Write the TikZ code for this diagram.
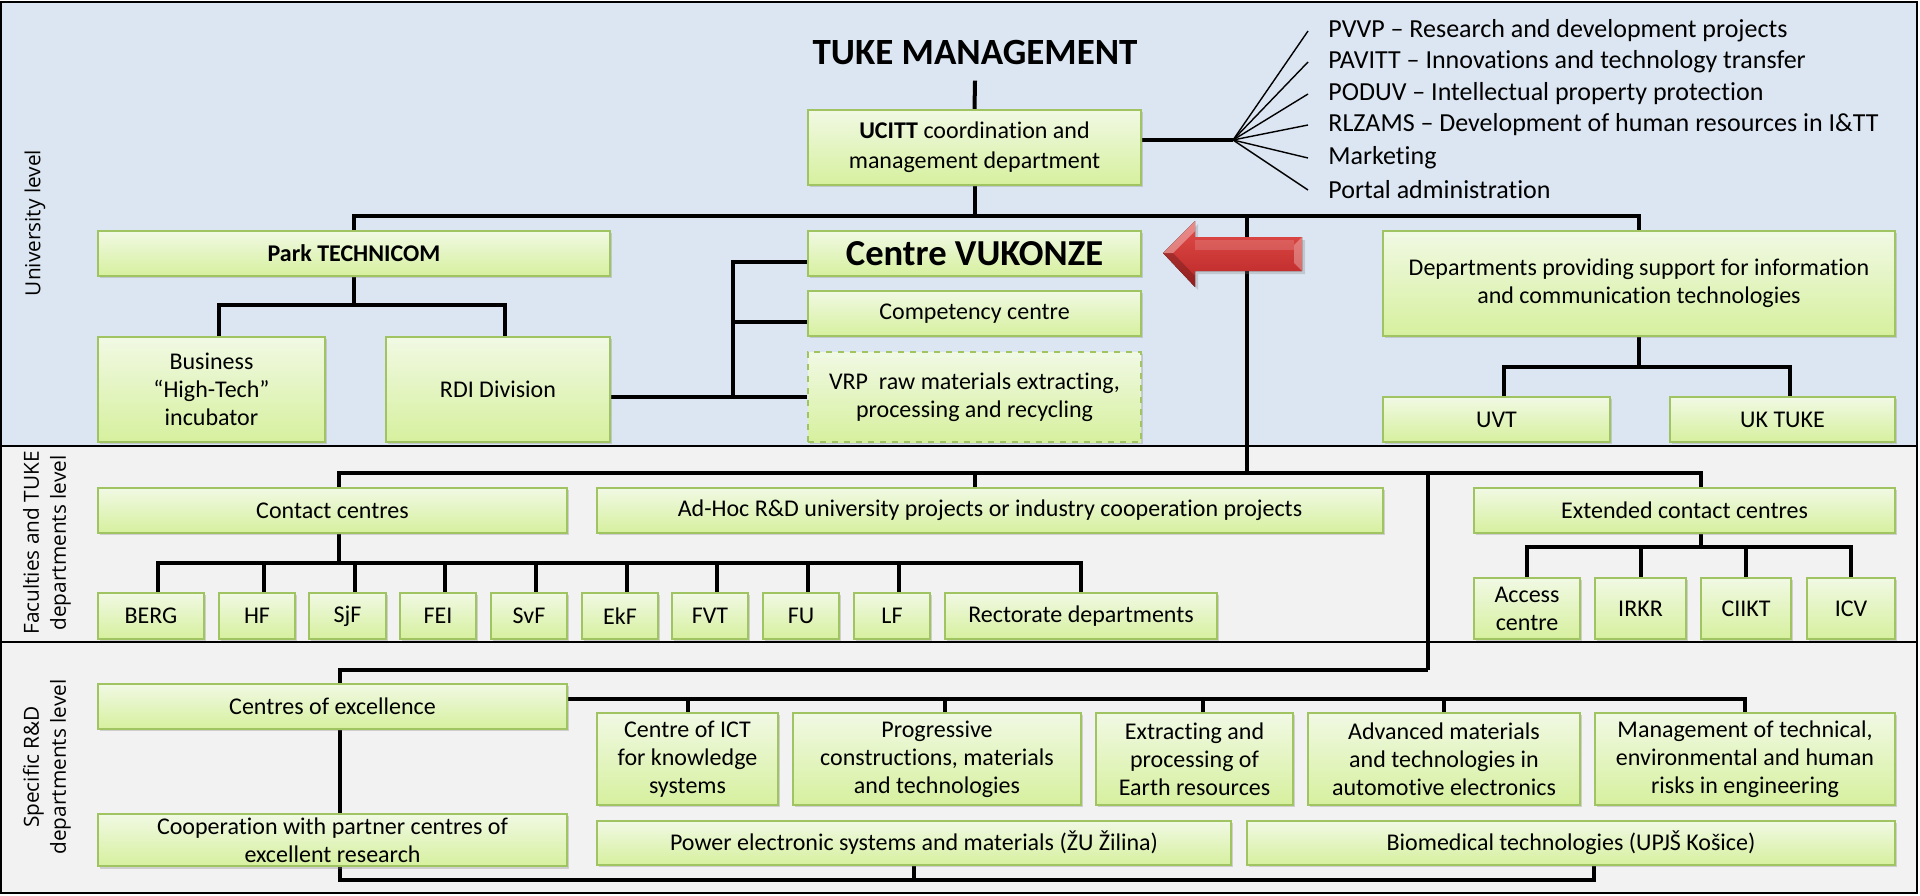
\documentclass[tikz,border=0pt]{standalone}
\usepackage{fontspec}
\setmainfont{Carlito}[Ligatures=NoCommon]
\newfontfamily\lblfont{Open Sans}
\usetikzlibrary{shadows}
\pgfdeclarelayer{bg}
\pgfdeclarelayer{lines}
\pgfsetlayers{bg,lines,main}
\definecolor{lvA}{RGB}{220,230,242}
\definecolor{lvB}{RGB}{242,242,242}
\definecolor{boxtop}{RGB}{241,249,228}
\definecolor{boxbot}{RGB}{214,240,158}
\definecolor{boxline}{RGB}{160,196,98}
\definecolor{arrtop}{RGB}{226,78,74}
\definecolor{arrbot}{RGB}{185,38,38}
\tikzset{
 box/.style={draw=boxline, line width=1pt, top color=boxtop, bottom color=boxbot, inner sep=2pt, align=center,
   font=\fontsize{12}{14}\selectfont, drop shadow={shadow xshift=1.2pt, shadow yshift=-1.2pt, opacity=0.3}},
 conn/.style={line width=2pt, black},
 fanline/.style={line width=0.7pt, black},
 item/.style={anchor=west, inner sep=0pt, font=\fontsize{13}{15}\selectfont},
 lbl/.style={font=\lblfont\fontsize{10.4}{13.5}\selectfont, align=center, inner sep=0pt, rotate=90},
 sepline/.style={line width=1.3pt, black},
}
\newcommand{\bx}[7][]{\node[box,minimum width={(#5-#3)*0.5pt},minimum height={(#6-#4)*0.5pt},#1] (#2) at ({(#3+#5)/2},{(#4+#6)/2}) {#7};}
\begin{document}
\begin{tikzpicture}[x=0.5pt,y=-0.5pt]
\useasboundingbox (0,0) rectangle (1920,895);
% level backgrounds
\begin{pgfonlayer}{bg}
\fill[lvA] (1,2) rectangle (1917,446);
\fill[lvB] (1,446) rectangle (1917,893);
\draw[sepline] (1,2) rectangle (1917,446);
\draw[sepline] (1,446) rectangle (1917,642);
\draw[sepline] (1,642) rectangle (1917,893);
\end{pgfonlayer}
% level labels
\node[lbl] (lv1) at (35,223) {University level};
\node[lbl] (lv2) at (47,543) {Faculties and TUKE\\departments level};
\node[lbl] (lv3) at (47,767) {Specific R\&D\\departments level};

% ---------- nodes, level 1
\node[inner sep=0pt, font=\fontsize{18.5}{20}\selectfont\bfseries] (tuke) at (975,52) {TUKE MANAGEMENT};
\bx[font=\fontsize{12}{15}\selectfont]{ucitt}{808}{110}{1141}{185}{\textbf{UCITT} coordination and\\management department}
\bx{park}{98}{231}{610}{276}{\textbf{Park TECHNICOM}}
\bx{business}{98}{337}{325}{442}{Business\\“High-Tech”\\incubator}
\bx{rdi}{386}{337}{610}{442}{RDI Division}
\bx[font=\fontsize{18.3}{20}\selectfont\bfseries]{vukonze}{808}{231}{1141}{276}{Centre VUKONZE}
\bx{comp}{808}{291}{1141}{336}{Competency centre}
\bx[dashed]{vrp}{808}{352}{1141}{442}{VRP\ \ raw materials extracting,\\processing and recycling}
\bx{depts}{1383}{231}{1895}{336}{Departments providing support for information\\and communication technologies}
\bx{uvt}{1383}{397}{1610}{442}{UVT}
\bx{uktuke}{1670}{397}{1895}{442}{UK TUKE}
\node[item] (l1) at (1328,31) {PVVP – Research and development projects};
\node[item] (l2) at (1328,62) {PAVITT – Innovations and technology transfer};
\node[item] (l3) at (1328,94) {PODUV – Intellectual property protection};
\node[item] (l4) at (1328,125) {RLZAMS – Development of human resources in I\&TT};
\node[item] (l5) at (1328,158) {Marketing};
\node[item] (l6) at (1328,190) {Portal administration};

% ---------- level 2
\bx{contact}{98}{488}{567}{533}{Contact centres}
\bx{adhoc}{597}{488}{1383}{533}{Ad-Hoc R\&D university projects or industry cooperation projects}
\bx{ext}{1474}{488}{1895}{533}{Extended contact centres}
\bx{berg}{98}{593}{204}{639}{BERG}
\bx{hf}{219}{593}{295}{639}{HF}
\bx{sjf}{309}{593}{386}{639}{SjF}
\bx{fei}{400}{593}{476}{639}{FEI}
\bx{svf}{491}{593}{567}{639}{SvF}
\bx{ekf}{582}{593}{658}{639}{EkF}
\bx{fvt}{672}{593}{748}{639}{FVT}
\bx{fu}{763}{593}{839}{639}{FU}
\bx{lf}{854}{593}{930}{639}{LF}
\bx{rect}{945}{593}{1217}{639}{Rectorate departments}
\bx{access}{1474}{578}{1580}{639}{Access\\centre}
\bx{irkr}{1595}{578}{1686}{639}{IRKR}
\bx{ciikt}{1701}{578}{1791}{639}{CIIKT}
\bx{icv}{1807}{578}{1895}{639}{ICV}

% ---------- level 3
\bx{coe}{98}{684}{567}{729}{Centres of excellence}
\bx{ict}{597}{713}{778}{805}{Centre of ICT\\for knowledge\\systems}
\bx{prog}{793}{713}{1081}{805}{Progressive\\constructions, materials\\and technologies}
\bx{extr}{1096}{713}{1293}{805}{Extracting and\\processing of\\Earth resources}
\bx{adv}{1308}{713}{1580}{805}{Advanced materials\\and technologies in\\automotive electronics}
\bx{mgmt}{1595}{713}{1895}{805}{Management of technical,\\environmental and human\\risks in engineering}
\bx{coop}{98}{814}{567}{866}{Cooperation with partner centres of\\excellent research}
\bx{power}{597}{821}{1231}{865}{Power electronic systems and materials (ŽU Žilina)}
\bx{bio}{1247}{821}{1895}{865}{Biomedical technologies (UPJŠ Košice)}

% ---------- connectors (behind boxes)
\coordinate (y1) at (0,216);
\coordinate (y1b) at (0,305);
\coordinate (y1c) at (0,367);
\coordinate (y2) at (0,473);
\coordinate (y2b) at (0,563);
\coordinate (y2c) at (0,547);
\coordinate (y3) at (0,670);
\coordinate (y3b) at (0,699);
\coordinate (y3c) at (0,880);
\coordinate (vx) at (1247,0);
\coordinate (vx2) at (1428,0);
\coordinate (vb) at (733,0);
\coordinate (fan) at (1233,140);

\begin{pgfonlayer}{lines}
\draw[conn] ([yshift=-8pt]tuke.south) -- (ucitt.north);
\draw[conn] (ucitt.south) -- (ucitt.south |- y1);
\draw[conn] (park.north) |- (y1 -| depts.north) -- (depts.north);
\draw[conn] (vx |- y1) -- (vx |- y2);
\draw[conn] (ucitt.east |- fan) -- (fan);
\foreach \i in {1,...,6} \draw[fanline] (fan) -- ([xshift=-10pt]l\i.west);
% park children
\draw[conn] (park.south) -- (park.south |- y1b);
\path ([xshift=3.5pt]business.north) coordinate (bn) ([xshift=3.5pt]rdi.north) coordinate (rn);
\draw[conn] (bn) |- (y1b -| rn) -- (rn);
% vukonze group
\path ([yshift=-4pt]vukonze.west) coordinate (vw) ([yshift=-4pt]comp.west) coordinate (cw);
\draw[conn] (vw) -| (vb |- vrp.west);
\draw[conn] (cw) -- (vb |- cw);
\draw[conn] (rdi.east |- vrp.west) -- (vrp.west);
% departments children
\draw[conn] (depts.south) -- (depts.south |- y1c);
\path ([xshift=3.5pt]uvt.north) coordinate (un) ([xshift=3.5pt]uktuke.north) coordinate (kn);
\draw[conn] (un) |- (y1c -| kn) -- (kn);

% level 2
\path ([xshift=3pt]contact.north) coordinate (cn) ([xshift=8pt]ext.north) coordinate (en) ([xshift=-7.5pt]adhoc.north) coordinate (an);
\draw[conn] (cn) |- (y2 -| en) -- (en);
\draw[conn] (an) -- (an |- y2);
\draw[conn] (vx2 |- y2) -- (vx2 |- y3);
\draw[conn] (cn |- contact.south) -- (cn |- y2b);
\path ([xshift=3.5pt]berg.north) coordinate (bgn);
\draw[conn] (bgn) |- (y2b -| rect.north) -- (rect.north);
\foreach \n in {hf,sjf,fei,svf,ekf,fvt,fu,lf}{
  \path ([xshift=3.5pt]\n.north) coordinate (tmp);
  \draw[conn] (tmp) -- (tmp |- y2b);
}
\draw[conn] (en |- ext.south) -- (en |- y2c);
\draw[conn] (access.north) |- (y2c -| icv.north) -- (icv.north);
\draw[conn] (irkr.north) -- (irkr.north |- y2c);
\draw[conn] (ciikt.north) -- (ciikt.north |- y2c);

% level 3
\path ([xshift=3.5pt]coe.north) coordinate (coen);
\draw[conn] (coen) |- (y3 -| vx2);
\draw[conn] (coe.east |- y3b) -| (mgmt.north);
\draw[conn] (ict.north) -- (ict.north |- y3b);
\path ([xshift=4pt]prog.north) coordinate (pn) ([xshift=4pt]extr.north) coordinate (xn);
\draw[conn] (pn) -- (pn |- y3b);
\draw[conn] (xn) -- (xn |- y3b);
\draw[conn] (adv.north) -- (adv.north |- y3b);
\draw[conn] (coen |- coe.south) -- (coen |- coop.north);
\path ([xshift=11.5pt]bio.south) coordinate (bs);
\draw[conn] (coen |- coop.south) |- (y3c -| bs) -- (bs);
\draw[conn] (power.south) -- (power.south |- y3c);
\end{pgfonlayer}

% ---------- red arrow
\fill[top color=arrtop, bottom color=arrbot, drop shadow={shadow xshift=1.5pt, shadow yshift=-1.5pt, opacity=0.3}]
  (1163,253) -- (1195,221) -- (1195,237) -- (1302,237) -- (1302,271) -- (1195,271) -- (1195,287) -- cycle;
\fill[white,opacity=0.35] (1163,253) -- (1195,221) -- (1195,231) -- (1173,253) -- cycle;
\fill[black,opacity=0.2] (1163,253) -- (1173,253) -- (1195,276) -- (1195,287) -- cycle;
\fill[white,opacity=0.3] (1302,237) -- (1302,271) -- (1294,263) -- (1294,245) -- cycle;
\fill[white,opacity=0.15] (1195,240) -- (1294,240) -- (1294,250) -- (1195,250) -- cycle;
\end{tikzpicture}
\end{document}
